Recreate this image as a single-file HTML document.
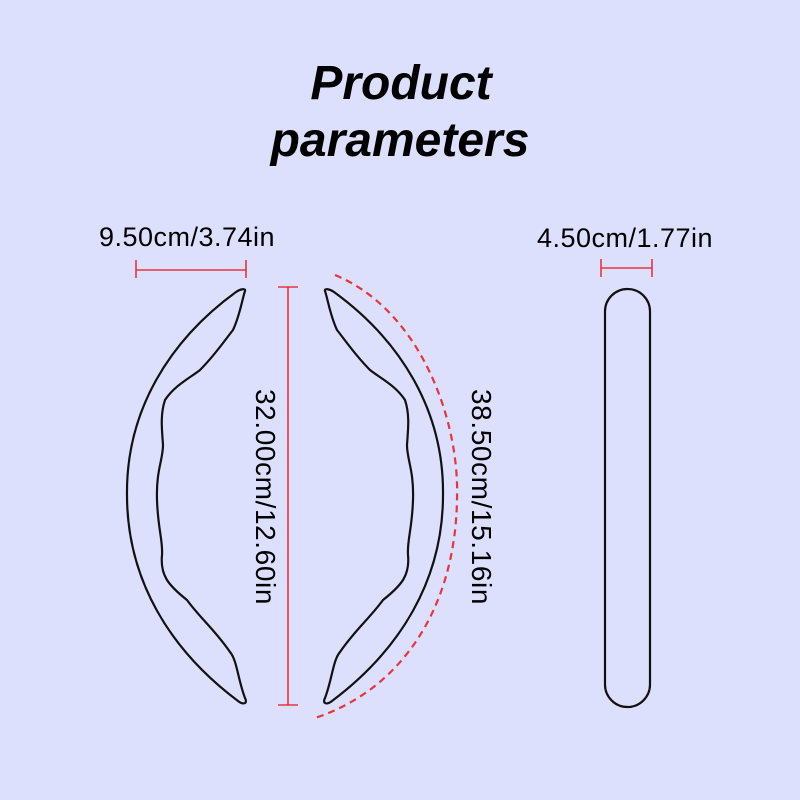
<!DOCTYPE html>
<html><head><meta charset="utf-8"><style>
html,body{margin:0;padding:0;background:#dde0fc;}
svg{display:block}
</style></head><body>
<svg width="800" height="800" viewBox="0 0 800 800" xmlns="http://www.w3.org/2000/svg">
<rect width="800" height="800" fill="#dde0fc"/>
<text x="401" y="99" text-anchor="middle" font-family="Liberation Sans, sans-serif" font-weight="bold" font-style="italic" font-size="48" fill="#000">Product</text>
<text x="400" y="156" text-anchor="middle" font-family="Liberation Sans, sans-serif" font-weight="bold" font-style="italic" font-size="48" fill="#000">parameters</text>

<text x="187" y="246" text-anchor="middle" font-family="Liberation Sans, sans-serif" font-size="27" letter-spacing="0.5" fill="#000">9.50cm/3.74in</text>
<g stroke="#e8343c" stroke-width="1.6" fill="none">
<line x1="136" y1="270" x2="246" y2="270"/>
<line x1="136" y1="260" x2="136" y2="278"/>
<line x1="246" y1="260" x2="246" y2="278"/>
<line x1="288" y1="287" x2="288" y2="705"/>
<line x1="278" y1="287" x2="298" y2="287"/>
<line x1="278" y1="705" x2="298" y2="705"/>
<line x1="601" y1="268" x2="652" y2="268"/>
<line x1="601" y1="259" x2="601" y2="277"/>
<line x1="652" y1="259" x2="652" y2="277"/>
</g>
<path d="M335,275 C420,310 460,420 457,500 C455,610 400,690 315,718" stroke="#e8343c" stroke-width="2.2" stroke-dasharray="7,5" fill="none"/>

<g stroke="#111" stroke-width="2.2" fill="none" stroke-linejoin="round">
<path id="L" d="M245,291 C246,288 240,289 236,292 C170,340 126,410 127,495 C127,580 170,650 238,701 C243,705 248,704 245,698 C238,680 237,660 230,652 C215,630 200,618 187,600 C168,585 160,575 162,555 C163,540 158,530 157,500 C156,470 163,460 163,445 C162,430 160,415 165,400 C175,385 190,378 200,370 C215,355 225,340 233,330 C240,315 242,300 245,291 Z"/>
<use href="#L" transform="translate(570,0) scale(-1,1)"/>
</g>

<rect x="605" y="289" width="45" height="418" rx="22.5" ry="22.5" stroke="#111" stroke-width="2.2" fill="none"/>
<text x="625" y="247" text-anchor="middle" font-family="Liberation Sans, sans-serif" font-size="27" letter-spacing="0.5" fill="#000">4.50cm/1.77in</text>

<text transform="translate(256,497) rotate(90)" text-anchor="middle" font-family="Liberation Sans, sans-serif" font-size="28" letter-spacing="0.6" fill="#000">32.00cm/12.60in</text>
<text transform="translate(472,497) rotate(90)" text-anchor="middle" font-family="Liberation Sans, sans-serif" font-size="28" letter-spacing="0.6" fill="#000">38.50cm/15.16in</text>
</svg>
</body></html>
